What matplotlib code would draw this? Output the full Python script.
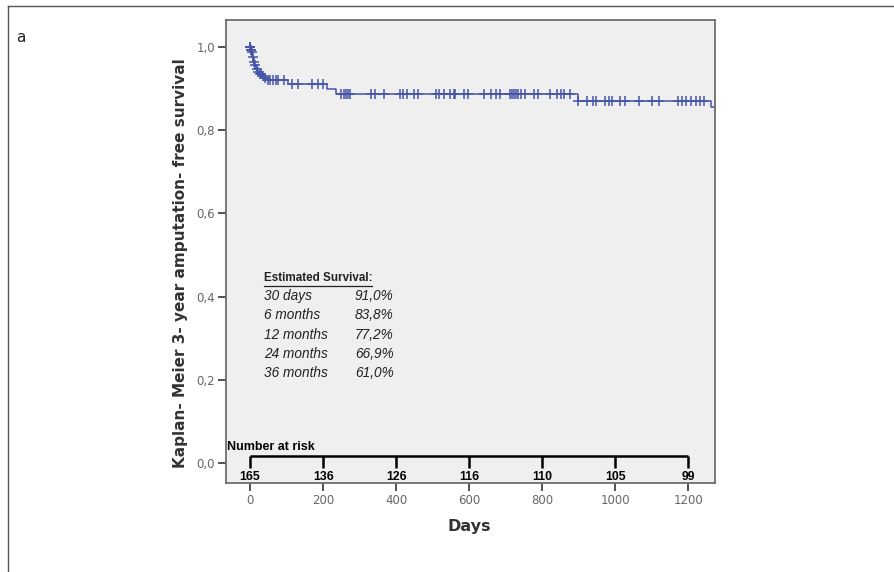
import numpy as np
import matplotlib
matplotlib.use("Agg")
import matplotlib.pyplot as plt
from matplotlib.lines import Line2D

# step function of the Kaplan-Meier curve (days, survival)
event_days = [0, 2, 4, 6, 9, 12, 16, 20, 26, 33, 40, 48, 105, 210, 236, 897, 1263]
event_surv = [1.0, 0.994, 0.988, 0.976, 0.965, 0.956, 0.948, 0.941, 0.936,
              0.931, 0.926, 0.920, 0.912, 0.899, 0.886, 0.871, 0.855]
end_day = 1275

# censored observations (days)
censor_days = [0, 0, 1, 2, 3, 5, 7, 10, 14, 18, 22, 27, 31, 36, 42, 50, 55, 62,
               70, 77, 92, 116, 131, 170, 185, 199,
               248, 258, 263, 268, 273, 331, 341, 366, 410, 419, 429, 449, 459,
               508, 517, 532, 547, 557, 561, 586, 596, 640, 659, 674, 684, 713,
               718, 723, 728, 733, 742, 752, 777, 787, 821, 840, 850, 860, 875, 897,
               923, 938, 948, 972, 982, 992, 1012, 1026, 1065, 1100, 1119, 1173,
               1183, 1193, 1207, 1222, 1232, 1242]

risk_days = [0, 200, 400, 600, 800, 1000, 1200]
risk_counts = [165, 136, 126, 116, 110, 105, 99]

est_labels = ["30 days", "6 months", "12 months", "24 months", "36 months"]
est_values = ["91,0%", "83,8%", "77,2%", "66,9%", "61,0%"]

y_ticks = [0.0, 0.2, 0.4, 0.6, 0.8, 1.0]
x_ticks = [0, 200, 400, 600, 800, 1000, 1200]

W, H = 895, 572
fig = plt.figure(figsize=(W / 100, H / 100), dpi=100)
fig.patch.set_facecolor("white")

# panel border (left + top)
fig.add_artist(Line2D([8 / W, 8 / W], [0, 1 - 6 / H], color="#555555", lw=1.0))
fig.add_artist(Line2D([8 / W, 1], [1 - 6 / H, 1 - 6 / H], color="#555555", lw=1.0))
fig.text(16 / W, 1 - 37 / H, "a", fontsize=11, color="#222222", va="center")

ax = fig.add_axes([226 / W, 1 - 483 / H, (715 - 226) / W, (483 - 20) / H])
ax.set_facecolor("#efefef")
for s in ax.spines.values():
    s.set_color("#6e6e6e")
    s.set_linewidth(1.3)

ax.set_xlim(-66, 1273)
ax.set_ylim(-0.048, 1.065)

# curve
xs = list(event_days) + [end_day]
ys = list(event_surv) + [event_surv[-1]]
curve_col = "#4555a8"
ax.step(xs, ys, where="post", color=curve_col, lw=1.1)

cs = []
for d in censor_days:
    idx = np.searchsorted(event_days, d, side="right") - 1
    cs.append(event_surv[idx])
ax.plot(censor_days, cs, ls="none", marker="+", ms=7.5, mew=1.1, color=curve_col)

# ticks
ax.set_yticks(y_ticks)
ax.set_yticklabels([f"{v:.1f}".replace(".", ",") for v in y_ticks])
ax.set_xticks(x_ticks)
ax.set_xticklabels([str(v) for v in x_ticks])
ax.tick_params(axis="both", direction="out", length=6, width=1.3, color="#444444",
               labelcolor="#666666", labelsize=8.5, pad=2)

# number at risk
yb = 0.017
ax.plot([risk_days[0], risk_days[-1]], [yb, yb], color="black", lw=1.8,
        solid_capstyle="butt")
for d, n in zip(risk_days, risk_counts):
    ax.plot([d, d], [yb, -0.011], color="black", lw=1.8, solid_capstyle="butt")
    ax.text(d, -0.033, str(n), ha="center", va="center", fontsize=8.8,
            fontweight="bold", family="Liberation Sans")
ax.text(-63, 0.038, "Number at risk", ha="left", va="center", fontsize=9,
        fontweight="bold", family="Liberation Sans")

# estimated survival table
tx_lab, tx_val = 264, 355
y0 = 1 - 278 / H
fig.text(tx_lab / W, y0, "Estimated Survival:", fontsize=8.4, fontweight="bold",
         family="Liberation Sans", color="#222222", va="center")
fig.add_artist(Line2D([tx_lab / W, 372 / W], [y0 - 7.5 / H, y0 - 7.5 / H],
                      color="#222222", lw=0.9))
for i, (lab, val) in enumerate(zip(est_labels, est_values)):
    yy = 1 - (296 + i * 19.3) / H
    fig.text(tx_lab / W, yy, lab, fontsize=9.8, style="italic",
             family="Liberation Sans", color="#222222", va="center")
    fig.text(tx_val / W, yy, val, fontsize=9.8, style="italic",
             family="Liberation Sans", color="#222222", va="center")

# axis labels
fig.text(181 / W, 1 - 263 / H, "Kaplan- Meier 3- year amputation- free survival",
         rotation=90, ha="center", va="center", fontsize=11, fontweight="bold",
         color="#333333")
fig.text(469 / W, 1 - 527 / H, "Days", ha="center", va="center", fontsize=11.5,
         fontweight="bold", color="#333333")

fig.savefig("out.png", dpi=100, facecolor="white")
